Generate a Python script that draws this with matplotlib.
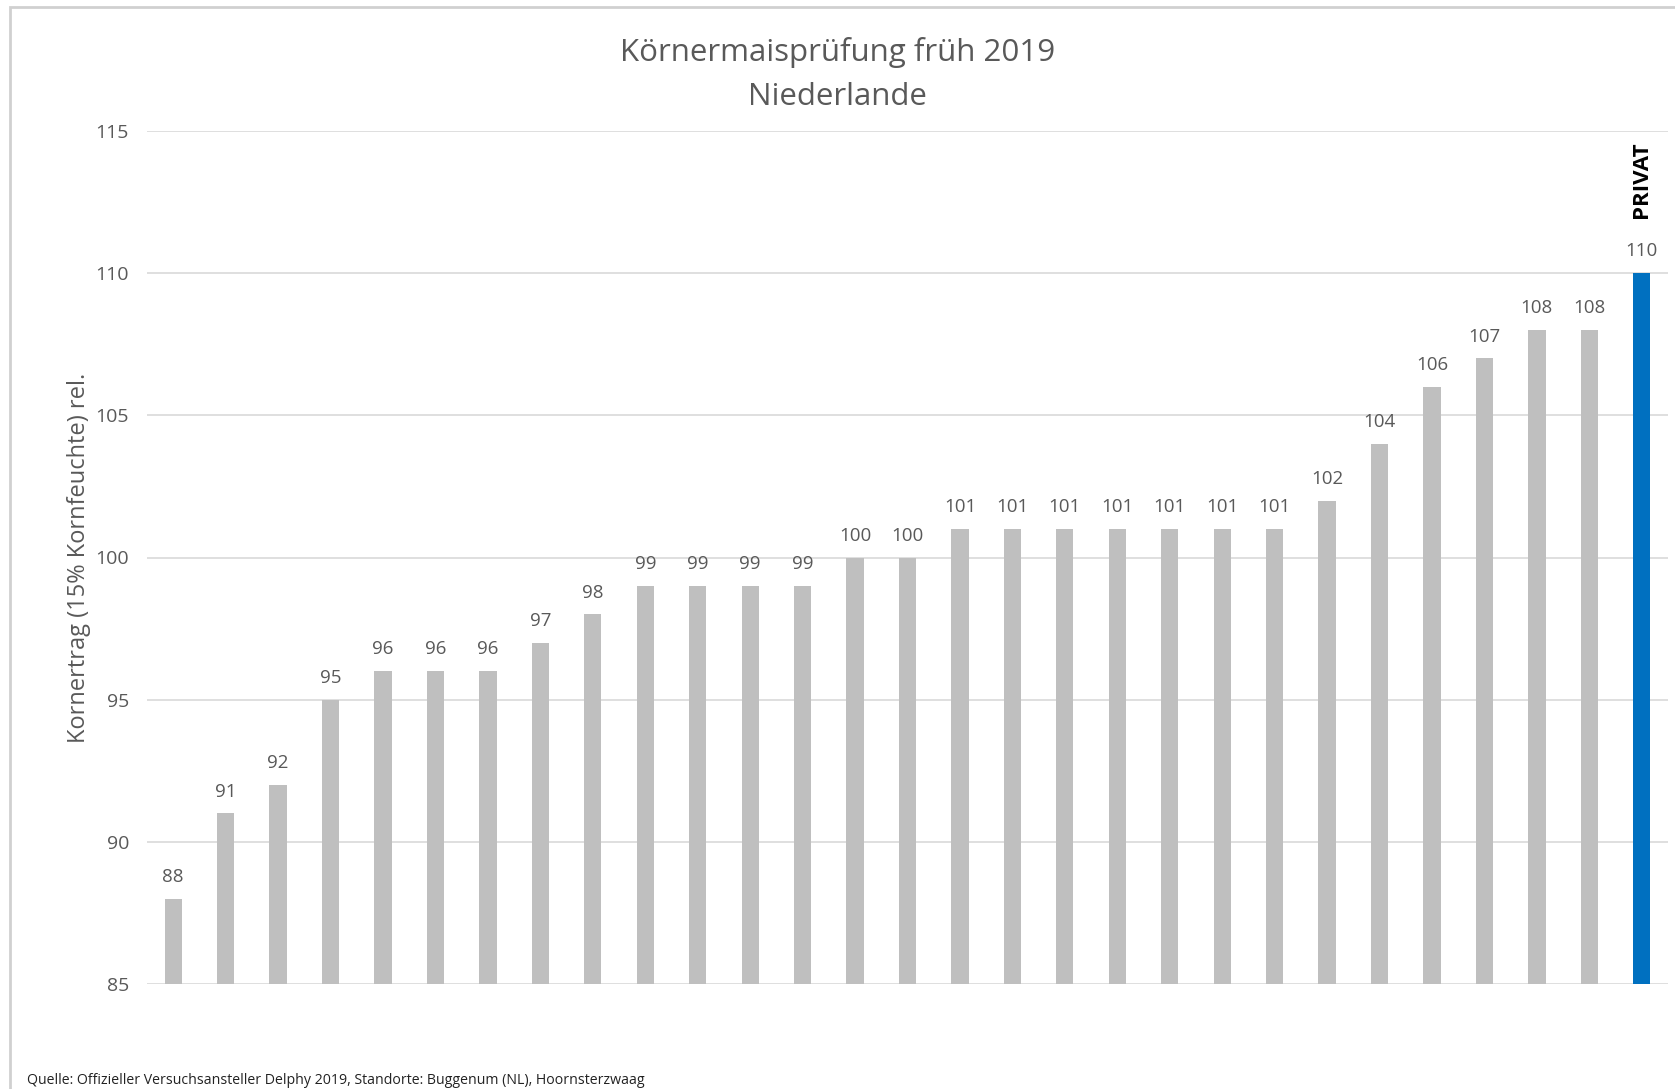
import numpy as np
import matplotlib
matplotlib.use('Agg')
import matplotlib.pyplot as plt
from matplotlib.patches import Rectangle

plt.rcParams['font.family'] = ['Open Sans', 'DejaVu Sans']

# relative grain yield per variety, sorted
values = [88, 91, 92, 95, 96, 96, 96, 97, 98, 99, 99, 99, 99, 100, 100,
          101, 101, 101, 101, 101, 101, 101, 102, 104, 106, 107, 108, 108, 110]
highlight = [False] * 28 + [True]
yticks = [85, 90, 95, 100, 105, 110, 115]

gray = '#bfbfbf'
blue = '#0070c0'
txt = '#595959'

fig = plt.figure(figsize=(16.75, 10.89), dpi=100)
ax = fig.add_axes([147 / 1675, 1 - 984 / 1089, (1668 - 147) / 1675, (984 - 131) / 1089])

x = np.arange(len(values))
colors = [blue if h else gray for h in highlight]
ax.bar(x, values, width=0.33, color=colors, zorder=3)

for xi, v, h in zip(x, values, highlight):
    ax.text(xi, v + 0.45, str(v), ha='center', va='bottom', fontsize=13.5, color=txt)
    if h:
        ax.text(xi, v + 1.95, 'PRIVAT', ha='center', va='bottom', rotation=90,
                fontsize=16, fontweight='bold', color='black')

ax.set_xlim(-0.5, len(values) - 0.5)
ax.set_ylim(85, 115)
ax.set_yticks(yticks)
ax.set_xticks([])
ax.yaxis.grid(True, color='#d9d9d9', linewidth=1.2, zorder=0)
ax.tick_params(axis='y', length=0, labelsize=14, labelcolor=txt, pad=13)
for s in ax.spines.values():
    s.set_visible(False)

ax.set_ylabel('Kornertrag (15% Kornfeuchte) rel.', fontsize=17, color=txt, labelpad=3)

fig.text(0.5, 1 - 52 / 1089, 'Körnermaisprüfung früh 2019', ha='center', va='center',
         fontsize=22.5, color=txt)
fig.text(0.5, 1 - 97 / 1089, 'Niederlande', ha='center', va='center',
         fontsize=22.5, color=txt)
fig.text(27 / 1675, 1 - 1081 / 1089,
         'Quelle: Offizieller Versuchsansteller Delphy 2019, Standorte: Buggenum (NL), Hoornsterzwaag',
         ha='left', va='center', fontsize=10.2, color='#222222')

fig.patches.append(Rectangle((10 / 1675, -0.1), 1.0, 1 - 7 / 1089 + 0.1,
                             transform=fig.transFigure, fill=False,
                             edgecolor='#d0d0d0', linewidth=2))

fig.savefig('out.png', dpi=100)
